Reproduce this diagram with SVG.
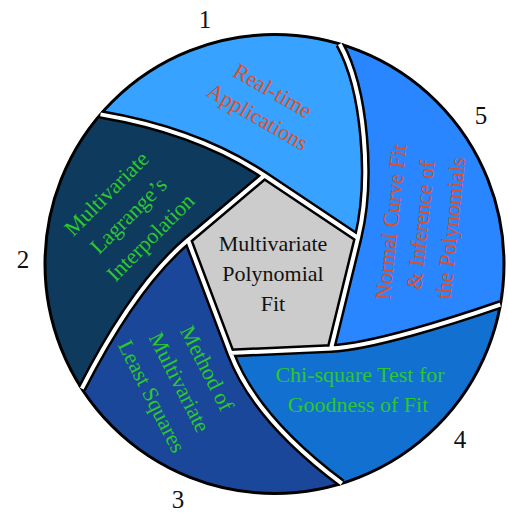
<svg xmlns="http://www.w3.org/2000/svg" width="508" height="513" viewBox="0 0 508 513">
<style>
text{font-family:"Liberation Serif","Times New Roman",serif;font-size:22px;text-anchor:middle}
.red{fill:#DC5028}
.grn{fill:#2DC82D}
.blk{fill:#111}
.num{font-size:25px;fill:#111}
.divb{fill:none;stroke:#000;stroke-width:9;stroke-linejoin:miter}
.divw{fill:none;stroke:#fff;stroke-width:4;stroke-linejoin:miter}
</style>
<defs>
<clipPath id="cc"><circle cx="274.5" cy="264" r="231"/></clipPath>
<path id="dv" d="M264.5,175.5 Q198,131 100.5,114.4 M358,238 C372.2,179.7 365,90 339.7,44 M188,240 Q134.5,285.2 81.8,388.7 M230.5,353 Q255,418.5 341.8,483.4 M331,348.5 C371,346.7 450,322 500.3,304.6 M264.5,175.5 L358,238 L331,348.5 L230.5,353 L188,240 Z"/>
</defs>
<g id="seg1">
<path fill="#37A2FF" d="M100.5,114.4 A229.5,229.5 0 0 1 339.7,44 C365,90 372.2,179.7 358,238 L264.5,175.5 Q198,131 100.5,114.4 Z"/>
</g>
<g id="seg5">
<path fill="#2A86FF" d="M339.7,44 A229.5,229.5 0 0 1 500.3,304.6 C450,322 371,346.7 331,348.5 L358,238 C372.2,179.7 365,90 339.7,44 Z"/>
</g>
<g id="seg4">
<path fill="#1170D0" d="M500.3,304.6 A229.5,229.5 0 0 1 341.8,483.4 Q255,418.5 230.5,353 L331,348.5 C371,346.7 450,322 500.3,304.6 Z"/>
</g>
<g id="seg3">
<path fill="#1A4799" d="M341.8,483.4 A229.5,229.5 0 0 1 81.8,388.7 Q134.5,285.2 188,240 L230.5,353 Q255,418.5 341.8,483.4 Z"/>
</g>
<g id="seg2">
<path fill="#0E3A5E" d="M81.8,388.7 A229.5,229.5 0 0 1 100.5,114.4 Q198,131 264.5,175.5 L188,240 Q134.5,285.2 81.8,388.7 Z"/>
</g>
<g id="center">
<path fill="#CCCCCC" d="M264.5,175.5 L358,238 L331,348.5 L230.5,353 L188,240 Z"/>
</g>
<circle cx="274.5" cy="264" r="229.5" fill="none" stroke="#000" stroke-width="3"/>
<g id="dividers" clip-path="url(#cc)">
<use href="#dv" class="divb"/>
<use href="#dv" class="divw"/>
</g>
<g id="texts">
<text class="blk" x="273" y="251">Multivariate</text>
<text class="blk" x="273" y="281">Polynomial</text>
<text class="blk" x="273" y="311">Fit</text>
<g transform="translate(265,104) rotate(30)">
<text class="red" x="0" y="-8">Real-time</text>
<text class="red" x="0" y="22">Applications</text>
</g>
<g transform="translate(128,215) rotate(-45)">
<text class="grn" x="0" y="-23">Multivariate</text>
<text class="grn" x="0" y="8">Lagrange’s</text>
<text class="grn" x="0" y="39">Interpolation</text>
</g>
<g transform="translate(180,382) rotate(63)">
<text class="grn" x="0" y="-23">Method of</text>
<text class="grn" x="0" y="8">Multivariate</text>
<text class="grn" x="0" y="39">Least Squares</text>
</g>
<g transform="translate(421,225) rotate(-84)">
<text class="red" x="0" y="-23">Normal Curve Fit</text>
<text class="red" x="0" y="7">&amp; Inference of</text>
<text class="red" x="0" y="37">the Polynomials</text>
</g>
<text class="grn" x="360" y="382">Chi-square Test for</text>
<text class="grn" x="358" y="412">Goodness of Fit</text>
</g>
<g id="labels">
<text class="num" x="205" y="28">1</text>
<text class="num" x="23" y="268">2</text>
<text class="num" x="178" y="508">3</text>
<text class="num" x="460" y="448">4</text>
<text class="num" x="481" y="124">5</text>
</g>
</svg>
